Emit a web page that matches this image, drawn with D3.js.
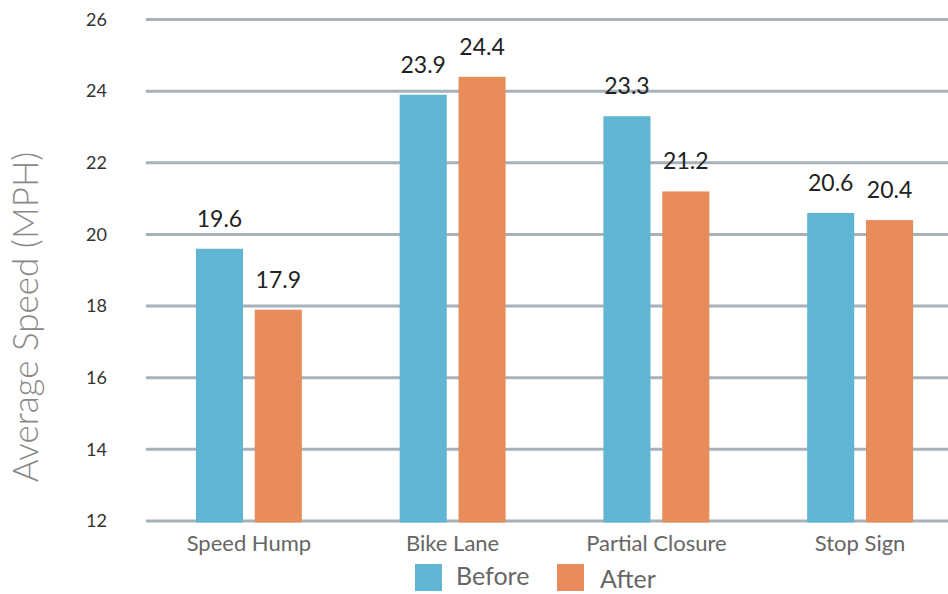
<!DOCTYPE html>
<html>
<head>
<meta charset="utf-8">
<script src="https://cdn.jsdelivr.net/npm/d3@7"></script>
<style>
  body { margin: 0; background: #fff; }
  svg { display: block; font-family: Lato, "Open Sans", sans-serif; }
</style>
</head>
<body>
<div id="chart"></div>
<script>
// chart data
const categories = ['Speed Hump', 'Bike Lane', 'Partial Closure', 'Stop Sign'];
const seriesKeys = ['Before', 'After'];
const beforeValues = [19.6, 23.9, 23.3, 20.6];
const afterValues = [17.9, 24.4, 21.2, 20.4];
const yTicks = [12, 14, 16, 18, 20, 22, 24, 26];

const colors = { Before: '#5fb5d2', After: '#e98c5b' };

const width = 948;
const height = 594;

const rows = categories.map((c, i) => ({
  category: c,
  values: [
    { key: 'Before', value: beforeValues[i] },
    { key: 'After', value: afterValues[i] },
  ],
}));

const svg = d3.select('#chart')
  .append('svg')
  .attr('width', width)
  .attr('height', height);

const x0 = d3.scaleBand()
  .domain(categories)
  .range([147, 962])
  .paddingInner(0.48)
  .paddingOuter(0.24);

const x1 = d3.scaleBand()
  .domain(seriesKeys)
  .range([0, x0.bandwidth()])
  .paddingInner(0.2);

const yScale = d3.scaleLinear().domain([12, 26]).range([521, 19.5]);

// gridlines
svg.append('g')
  .attr('class', 'gridlines')
  .selectAll('line')
  .data(yTicks)
  .join('line')
  .attr('x1', 146)
  .attr('x2', width)
  .attr('y1', (d) => yScale(d))
  .attr('y2', (d) => yScale(d))
  .attr('stroke', '#a6b2ba')
  .attr('stroke-width', 3);

// y tick labels
svg.append('g')
  .selectAll('text')
  .data(yTicks)
  .join('text')
  .attr('x', 86)
  .attr('y', (d) => yScale(d))
  .attr('dy', '0.35em')
  .attr('fill', '#333')
  .style('font-size', '18px')
  .text((d) => d);

// y axis title
svg.append('text')
  .attr('transform', `translate(38, 317) rotate(-90)`)
  .attr('text-anchor', 'middle')
  .attr('fill', '#888')
  .style('font-size', '35px')
  .style('font-weight', 300)
  .text('Average Speed (MPH)');

// bars
const groups = svg.append('g')
  .selectAll('g')
  .data(rows)
  .join('g')
  .attr('transform', (d) => `translate(${x0(d.category)},0)`);

groups.selectAll('rect')
  .data((d) => d.values)
  .join('rect')
  .attr('x', (d) => x1(d.key))
  .attr('y', (d) => yScale(d.value))
  .attr('width', x1.bandwidth())
  .attr('height', (d) => yScale(12) + 1.5 - yScale(d.value))
  .attr('fill', (d) => colors[d.key]);

groups.selectAll('text')
  .data((d) => d.values)
  .join('text')
  .attr('x', (d) => x1(d.key) + x1.bandwidth() / 2)
  .attr('y', (d) => yScale(d.value) - 22)
  .attr('text-anchor', 'middle')
  .attr('fill', '#222')
  .style('font-size', '23px')
  .text((d) => d.value.toFixed(1));

// category labels
svg.append('g')
  .selectAll('text')
  .data(categories)
  .join('text')
  .attr('x', (d) => x0(d) + x0.bandwidth() / 2)
  .attr('y', 551)
  .attr('text-anchor', 'middle')
  .attr('fill', '#666')
  .style('font-size', '22px')
  .text((d) => d);

// legend
const legendX = [415, 557];
const legend = svg.append('g')
  .selectAll('g')
  .data(seriesKeys)
  .join('g')
  .attr('transform', (d, i) => `translate(${legendX[i]}, 564)`);

legend.append('rect')
  .attr('width', 27)
  .attr('height', 27)
  .attr('fill', (d) => colors[d]);

legend.append('text')
  .attr('x', (d, i) => (i === 0 ? 41 : 43))
  .attr('y', (d, i) => (i === 0 ? 21 : 24))
  .attr('fill', '#666')
  .style('font-size', '25px')
  .text((d) => d);
</script>
</body>
</html>
